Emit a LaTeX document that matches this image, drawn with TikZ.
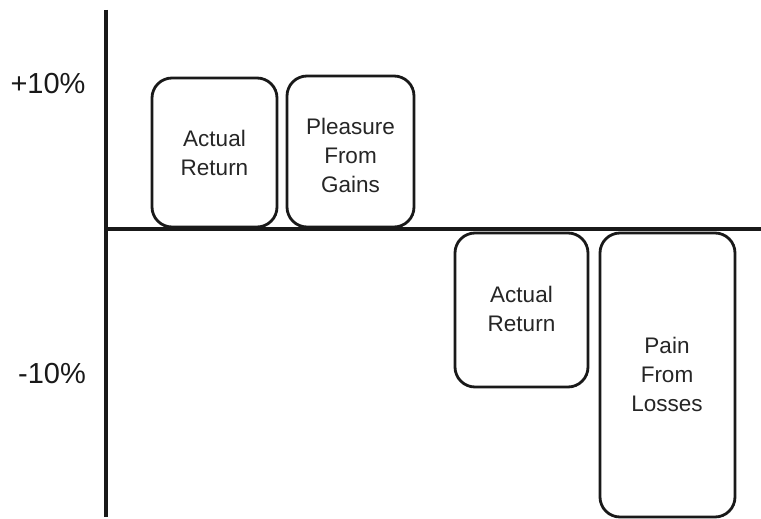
\documentclass[tikz,border=0pt]{standalone}
\usepackage{fontspec}
\setmainfont{Liberation Sans}
\begin{document}
\begin{tikzpicture}[x=1pt,y=-1pt,
  bar/.style={draw=black!90,line width=2.8pt,rounded corners=20pt,fill=white},
  axis/.style={draw=black!90,line width=3.2pt},
  lbl/.style={align=center,font=\fontsize{22.5}{29}\selectfont,text=black!85},
  pct/.style={font=\fontsize{29}{30}\selectfont,text=black!90}]
\useasboundingbox (0,0) rectangle (761,519);
\coordinate (ytop) at (106,10);
\coordinate (ybot) at (106,517);
\coordinate (xl) at (104,229);
\coordinate (xr) at (761,229);
\draw[axis] (ytop) -- (ybot);
\draw[axis] (xl) -- (xr);
\draw[bar] (152,78) rectangle (277,227);
\draw[bar] (287,76) rectangle (414,227);
\draw[bar] (455,233) rectangle (588,387);
\draw[bar] (600,233) rectangle (735,517);
\node[lbl] (a1) at (214.5,153) {Actual\\Return};
\node[lbl] (pg) at (350.5,155) {Pleasure\\From\\Gains};
\node[lbl] (a2) at (521.5,309) {Actual\\Return};
\node[lbl] (pl) at (667,374) {Pain\\From\\Losses};
\node[pct] (p10) at (48,84) {+10\%};
\node[pct] (m10) at (52,374) {-10\%};
\end{tikzpicture}
\end{document}
